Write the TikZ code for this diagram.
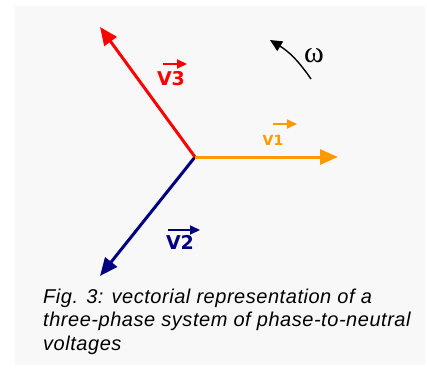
\documentclass[tikz,border=0pt]{standalone}
\usepackage{fontspec}
\setmainfont{Liberation Sans}
\newfontfamily\lblfont{DejaVu Sans}
\newfontfamily\omegafont{Liberation Serif}
\usetikzlibrary{arrows.meta}
\definecolor{bgg}{RGB}{248,248,248}
\definecolor{vred}{RGB}{255,0,0}
\definecolor{vorange}{RGB}{255,153,0}
\definecolor{vnavy}{RGB}{0,0,128}
\tikzset{
  phasor/.style={line width=3pt,-{Triangle[length=18pt,width=15pt]}},
  overarr/.style={line width=1.8pt,-{Triangle[length=10pt,width=9pt]}},
  vlabel/.style={font=\lblfont\fontsize{19}{19}\selectfont\bfseries,inner sep=0pt},
}
\begin{document}
\begin{tikzpicture}[x=1pt,y=1pt]
\useasboundingbox (0,0) rectangle (427,367);
\fill[bgg] (15,2) rectangle (425,361);
\coordinate (O) at (195,210);
\coordinate (T1) at (338,210);
\coordinate (T2) at (100,91);
\coordinate (T3) at (100,340);
\draw[phasor,vnavy] (O) -- (T2);
\draw[phasor,vred] (O) -- (T3);
\draw[phasor,vorange] (O) -- (T1);
% labels
\node[vlabel,text=vred] (L3) at (171,288) {V3};
\draw[overarr,vred] ([shift={(-8,15)}]L3.center) -- ++(24,0);
\node[vlabel,text=vorange,font=\lblfont\fontsize{14}{14}\selectfont\bfseries] (L1) at (273,227) {V1};
\draw[overarr,vorange] ([shift={(0,16)}]L1.center) -- ++(24,0);
\node[vlabel,text=vnavy] (L2) at (180,125) {V2};
\draw[overarr,vnavy] ([shift={(-12,12)}]L2.center) -- ++(32,0);
% omega
\coordinate (W0) at (311,288);
\coordinate (W1) at (270,327);
\draw[line width=1.4pt,-{Triangle[length=12pt,width=11pt]}] (W0) to[bend right=12] (W1);
\node[font=\omegafont\fontsize{30}{30}\selectfont,inner sep=0pt] (W) at (314,311) {ω};
% caption
\node[anchor=base west,align=left,inner sep=0pt,font=\fontsize{20}{23.3}\selectfont\itshape\addfontfeatures{LetterSpace=2.7}] (cap) at (43,17)
 {Fig. 3: vectorial representation of a\\three-phase system of phase-to-neutral\\voltages};
\end{tikzpicture}
\end{document}
